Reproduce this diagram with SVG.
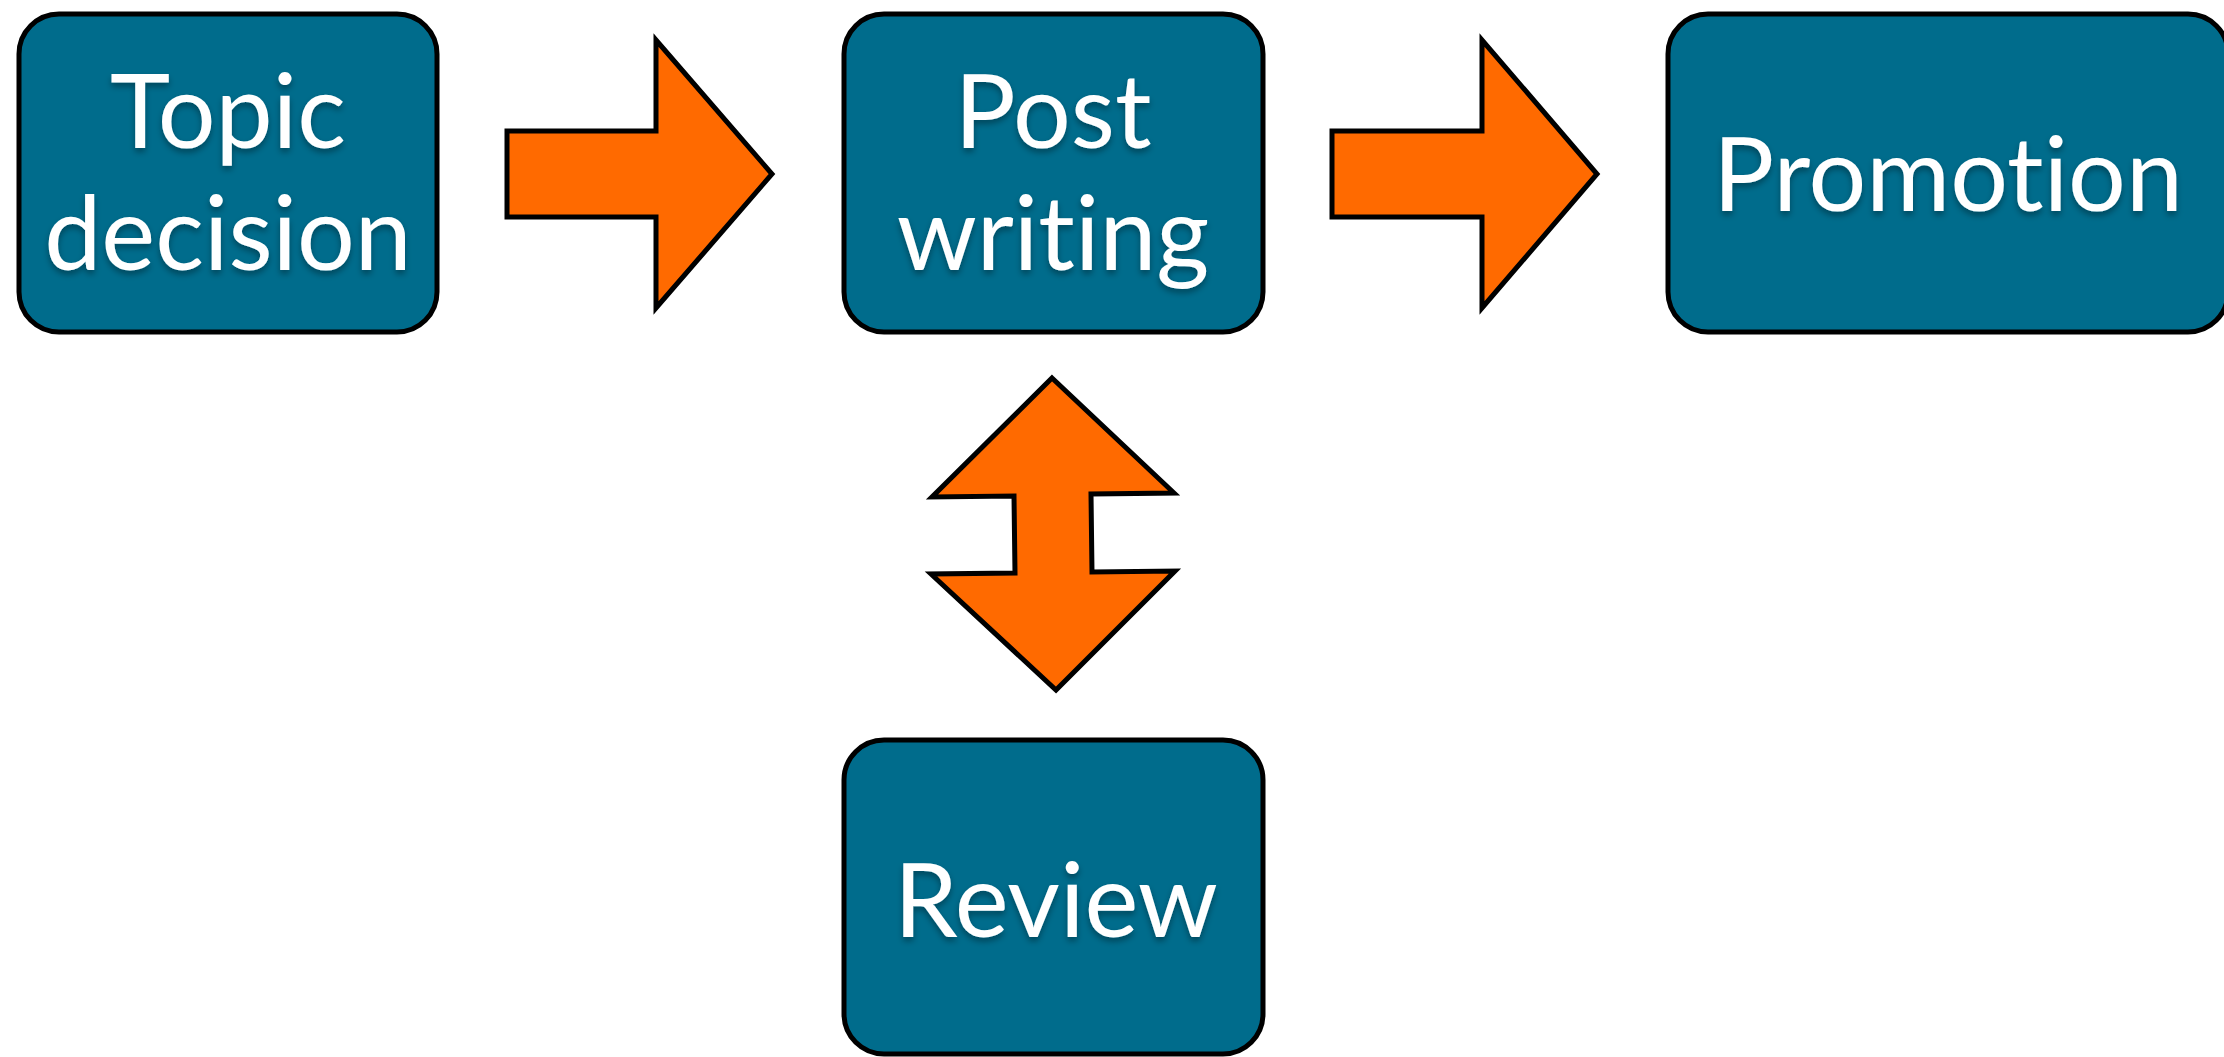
<svg xmlns="http://www.w3.org/2000/svg" width="2224" height="1057" viewBox="0 0 2224 1057">
<defs>
<filter id="ts" x="-10%" y="-10%" width="120%" height="130%">
<feDropShadow dx="0" dy="4" stdDeviation="3" flood-color="#000" flood-opacity="0.35"/>
</filter>
</defs>
<style>
.box{fill:#006C8C;stroke:#000;stroke-width:5}
.lbl{fill:#fff;font-family:Lato,"Open Sans",sans-serif;font-size:102px;text-anchor:middle;filter:url(#ts);font-variant-ligatures:none;font-feature-settings:"liga" 0,"dlig" 0}
.arr{fill:#FF6A00;stroke:#000;stroke-width:5;stroke-linejoin:miter}
</style>
<rect width="2224" height="1057" fill="#fff"/>
<g id="connectors">
<polygon class="arr" points="507,131 656,131 656,40 772,174 656,308 656,217 507,217"/>
<polygon class="arr" points="1332,131 1482,131 1482,40 1597,174 1482,308 1482,217 1332,217"/>
<polygon class="arr" points="1052,378 1174,493 1091,494 1092,572 1175,571 1056,690 931,574 1015,573 1014,496 932,497"/>
</g>
<g id="topic-decision">
<rect class="box" x="19" y="14" width="418" height="318" rx="40"/>
<text class="lbl" x="228" y="148">Topic</text>
<text class="lbl" x="228" y="270">decision</text>
</g>
<g id="post-writing">
<rect class="box" x="844" y="14" width="419" height="318" rx="40"/>
<text class="lbl" x="1053" y="148">Post</text>
<text class="lbl" x="1053" y="270">writing</text>
</g>
<g id="promotion">
<rect class="box" x="1668" y="14" width="560" height="318" rx="40"/>
<text class="lbl" x="1948" y="211">Promotion</text>
</g>
<g id="review">
<rect class="box" x="844" y="740" width="419" height="314" rx="40"/>
<text class="lbl" x="1056" y="937">Review</text>
</g>
</svg>
